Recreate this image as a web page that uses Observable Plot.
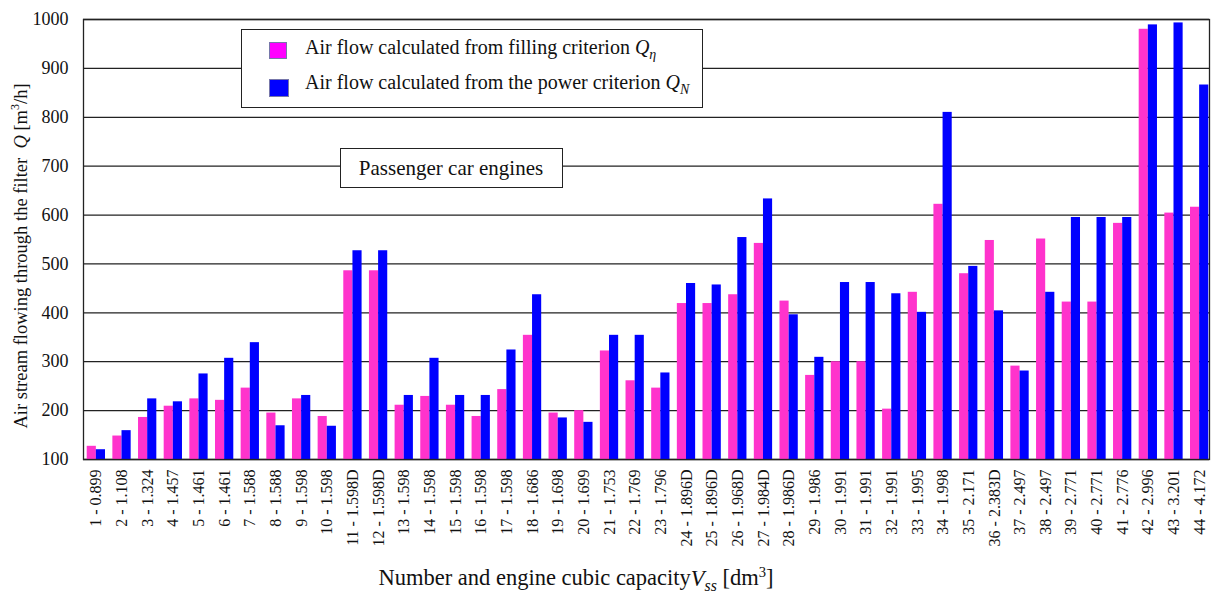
<!DOCTYPE html>
<html>
<head>
<meta charset="utf-8">
<script src="https://cdn.jsdelivr.net/npm/d3@7"></script>
<script src="https://cdn.jsdelivr.net/npm/@observablehq/plot@0.6"></script>
<style>
  html, body { margin: 0; padding: 0; background: #fff; }
  #wrap { position: relative; width: 1211px; height: 592px; font-family: "Liberation Serif", "Times New Roman", serif; color: #111; }
  #wrap svg { position: absolute; left: 0; top: 0; }
  .ov { position: absolute; white-space: nowrap; }
  .box { position: absolute; background: #fff; border: 1.5px solid #222; box-sizing: border-box; }
  .sw { position: absolute; width: 18px; height: 17px; box-sizing: border-box; border: 1px solid #7777aa; }
  i sub { font-size: 0.7em; }
</style>
</head>
<body>
<div id="wrap"></div>
<script>
const labels = ["1 - 0.899","2 - 1.108","3 - 1.324","4 - 1.457","5 - 1.461","6 - 1.461","7 - 1.588","8 - 1.588","9 - 1.598","10 - 1.598","11 - 1.598D","12 - 1.598D","13 - 1.598","14 - 1.598","15 - 1.598","16 - 1.598","17 - 1.598","18 - 1.686","19 - 1.698","20 - 1.699","21 - 1.753","22 - 1.769","23 - 1.796","24 - 1.896D","25 - 1.896D","26 - 1.968D","27 - 1.984D","28 - 1.986D","29 - 1.986","30 - 1.991","31 - 1.991","32 - 1.991","33 - 1.995","34 - 1.998","35 - 2.171","36 - 2.383D","37 - 2.497","38 - 2.497","39 - 2.771","40 - 2.771","41 - 2.776","42 - 2.996","43 - 3.201","44 - 4.172"];
const filling = [127,148,186,209,224,221,246,195,224,188,486,486,211,229,211,188,243,354,195,200,322,261,246,419,419,437,542,424,272,300,300,203,442,622,480,548,291,551,422,422,583,980,604,616];
const power = [120,159,224,218,275,307,339,169,231,168,527,527,231,307,231,231,324,437,185,176,354,354,277,460,457,554,633,396,309,462,462,439,401,810,495,404,281,442,595,595,595,989,993,866];
const yTicks = [100,200,300,400,500,600,700,800,900,1000];

const pinkColor = "#ff33cc";
const blueColor = "#0000ff";

const fillRows = labels.map((l, i) => ({label: l, value: filling[i]}));
const powRows = labels.map((l, i) => ({label: l, value: power[i]}));

const bw = 18.3;
const chart = Plot.plot({
  width: 1211,
  height: 592,
  marginTop: 19,
  marginBottom: 133,
  marginLeft: 83,
  marginRight: 2,
  style: {fontFamily: "'Liberation Serif', 'Times New Roman', serif", color: "#111", background: "transparent"},
  x: {domain: labels, paddingInner: 0.287, paddingOuter: 0.086, align: 0.84, round: false, label: null},
  y: {domain: [100, 1000], label: null},
  marks: [
    Plot.ruleY(yTicks, {stroke: "#222", strokeWidth: 1.3}),
    Plot.barY(fillRows, {x: "label", y1: 100, y2: "value", fill: pinkColor, insetRight: bw / 2}),
    Plot.barY(powRows, {x: "label", y1: 100, y2: "value", fill: blueColor, insetLeft: bw / 2}),
    Plot.axisY({ticks: yTicks, tickSize: 0, tickPadding: 15, fontSize: 18, tickFormat: d => String(d), label: null}),
    Plot.axisX({tickSize: 0, tickPadding: 10, tickRotate: -90, fontSize: 16, label: null}),
    Plot.frame({stroke: "#222", strokeWidth: 1.3})
  ]
});
const wrap = document.getElementById("wrap");
wrap.appendChild(chart);

const html = `
<div class="box" style="left:241px;top:29px;width:462px;height:79px;"></div>
<div class="sw" style="left:269px;top:42px;background:#ff00ff;"></div>
<div class="sw" style="left:269px;top:79px;background:#0000ff;width:20px;height:18px;"></div>
<div class="ov" style="left:305px;top:36px;font-size:20px;">Air flow calculated from filling criterion <i>Q<sub>η</sub></i></div>
<div class="ov" style="left:305px;top:71px;font-size:20px;">Air flow calculated from the power criterion <i>Q<sub>N</sub></i></div>
<div class="box" style="left:340px;top:148px;width:223px;height:40px;"></div>
<div class="ov" style="left:451px;top:168px;transform:translate(-50%,-50%);font-size:21px;">Passenger car engines</div>
<div class="ov" style="left:20px;top:256px;transform:translate(-50%,-50%) rotate(-90deg);font-size:18.5px;">Air stream flowing through the filter&nbsp; <i>Q</i> [m<sup style="font-size:0.65em">3</sup>/h]</div>
<div class="ov" style="left:576px;top:579px;transform:translate(-50%,-50%);font-size:22.5px;">Number and engine cubic capacity<i>V<sub>ss</sub></i> [dm<sup style="font-size:0.65em">3</sup>]</div>
`;
wrap.insertAdjacentHTML("beforeend", html);
</script>
</body>
</html>
